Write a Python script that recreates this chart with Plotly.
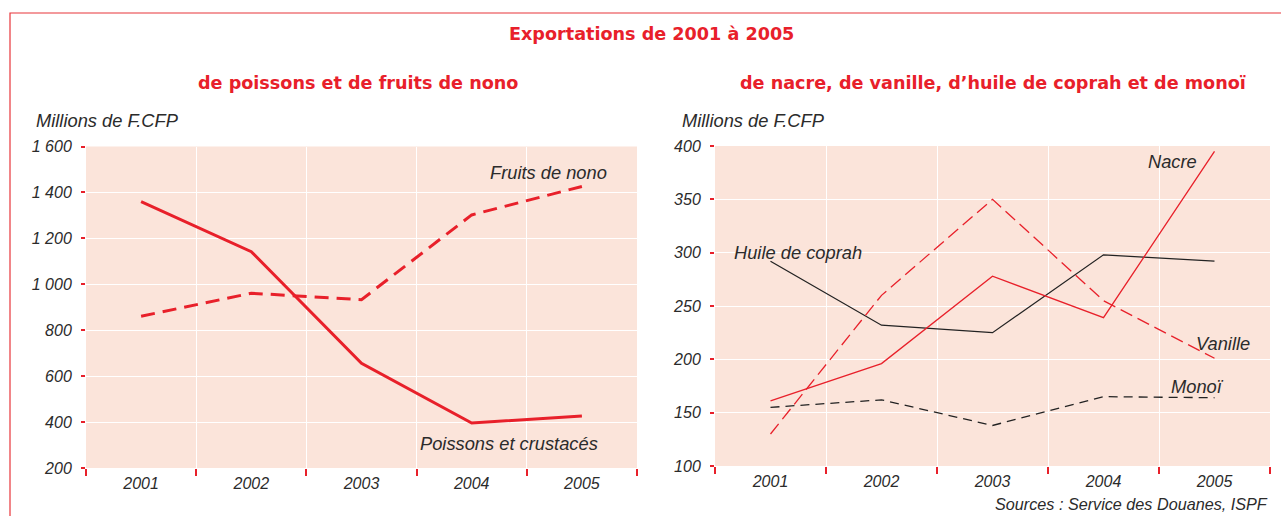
import plotly.graph_objects as go

# ---- data ----
years = ["2001", "2002", "2003", "2004", "2005"]
poissons = [1360, 1142, 656, 396, 426]
nono = [861, 961, 933, 1302, 1426]
nacre = [161, 196, 278, 239, 395]
vanille = [130, 260, 350, 255, 201]
coprah = [292, 232, 225, 298, 292]
monoi = [155, 162, 138, 165, 164]
left_yticks = [200, 400, 600, 800, 1000, 1200, 1400, 1600]
left_yticklabels = ["200", "400", "600", "800", "1 000", "1 200", "1 400", "1 600"]
right_yticks = [100, 150, 200, 250, 300, 350, 400]

W, H = 1281, 516
RED = "#E8202A"
TXT = "#2b2b2b"
BG = "#FBE4DA"
FONT = "Liberation Sans"
TFONT = "DejaVu Sans"


def px(x):
    return x / W


def py(y):
    return 1 - y / H


fig = go.Figure()

fig.add_trace(go.Scatter(x=years, y=poissons, mode="lines", line=dict(color=RED, width=3),
                         xaxis="x", yaxis="y", showlegend=False))
fig.add_trace(go.Scatter(x=years, y=nono, mode="lines", line=dict(color=RED, width=3, dash="14px,8px"),
                         xaxis="x", yaxis="y", showlegend=False))

fig.add_trace(go.Scatter(x=years, y=coprah, mode="lines", line=dict(color="#222222", width=1.3),
                         xaxis="x2", yaxis="y2", showlegend=False))
fig.add_trace(go.Scatter(x=years, y=monoi, mode="lines", line=dict(color="#222222", width=1.3, dash="9px,6px"),
                         xaxis="x2", yaxis="y2", showlegend=False))
fig.add_trace(go.Scatter(x=years, y=vanille, mode="lines", line=dict(color=RED, width=1.3, dash="13px,6px"),
                         xaxis="x2", yaxis="y2", showlegend=False))
fig.add_trace(go.Scatter(x=years, y=nacre, mode="lines", line=dict(color=RED, width=1.3),
                         xaxis="x2", yaxis="y2", showlegend=False))

tickfont = dict(family=FONT, size=16, color=TXT, style="italic")

xcommon = dict(type="category", range=[-0.5, 4.5], tickson="boundaries", showgrid=True,
               gridcolor="white", gridwidth=1.2,
               ticks="outside", ticklen=7, tickwidth=1.5, tickcolor=RED, tickfont=tickfont,
               ticklabelstandoff=4,
               showline=False, zeroline=False, fixedrange=True, automargin=False)
ycommon = dict(showgrid=True, gridcolor="white", gridwidth=1.2, ticks="outside", ticklen=4,
               tickwidth=1.5, tickcolor=RED, tickfont=tickfont, ticklabelstandoff=6,
               showline=False, zeroline=False,
               fixedrange=True, automargin=False)

fig.update_layout(
    width=W, height=H,
    autosize=False,
    margin=dict(l=0, r=0, t=0, b=0, pad=0, autoexpand=False),
    paper_bgcolor="white",
    plot_bgcolor=BG,
    xaxis=dict(domain=[px(86), px(637)], anchor="y", **xcommon),
    yaxis=dict(domain=[py(468), py(146.5)], anchor="x", range=[200, 1600],
               tickvals=left_yticks, ticktext=left_yticklabels, **ycommon),
    xaxis2=dict(domain=[px(715), px(1270)], anchor="y2", **xcommon),
    yaxis2=dict(domain=[py(466), py(146)], anchor="x2", range=[100, 400],
                tickvals=right_yticks, **ycommon),
)

# frame
fig.add_shape(type="rect", xref="paper", yref="paper", x0=px(10), x1=px(1300), y0=py(540), y1=py(13),
              line=dict(color="#E8353A", width=1.2), fillcolor="rgba(0,0,0,0)", layer="above")

def ann(text, x, y, size, bold=False, italic=False, color=TXT, xanchor="center", family=FONT):
    fig.add_annotation(text=text, x=px(x), y=py(y), xref="paper", yref="paper", showarrow=False,
                       xanchor=xanchor, yanchor="middle",
                       font=dict(family=family, size=size, color=color,
                                 weight="bold" if bold else "normal",
                                 style="italic" if italic else "normal"))

ann("Exportations de 2001 à 2005", 651, 34, 17.6, bold=True, color=RED, family=TFONT)
ann("de poissons et de fruits de nono", 358, 83, 17.6, bold=True, color=RED, family=TFONT)
ann("de nacre, de vanille, d’huile de coprah et de monoï", 993, 83, 17.6, bold=True, color=RED, family=TFONT)
ann("Millions de F.CFP", 34, 121, 18.3, italic=True, xanchor="left")
ann("Millions de F.CFP", 680, 121, 18.3, italic=True, xanchor="left")
ann("Fruits de nono", 548, 173, 18.3, italic=True)
ann("Poissons et crustacés", 509, 443, 18.3, italic=True)
ann("Nacre", 1172, 161, 18.3, italic=True)
ann("Huile de coprah", 798, 252, 18.3, italic=True)
ann("Vanille", 1223, 343, 18.3, italic=True)
ann("Monoï", 1197, 386, 18.3, italic=True)
ann("Sources : Service des Douanes, ISPF", 1270, 504, 16.2, italic=True, xanchor="right")

fig.write_html("out.html", config={"displayModeBar": False},
               post_script="document.body.style.margin='0px';document.body.style.overflow='hidden';")
